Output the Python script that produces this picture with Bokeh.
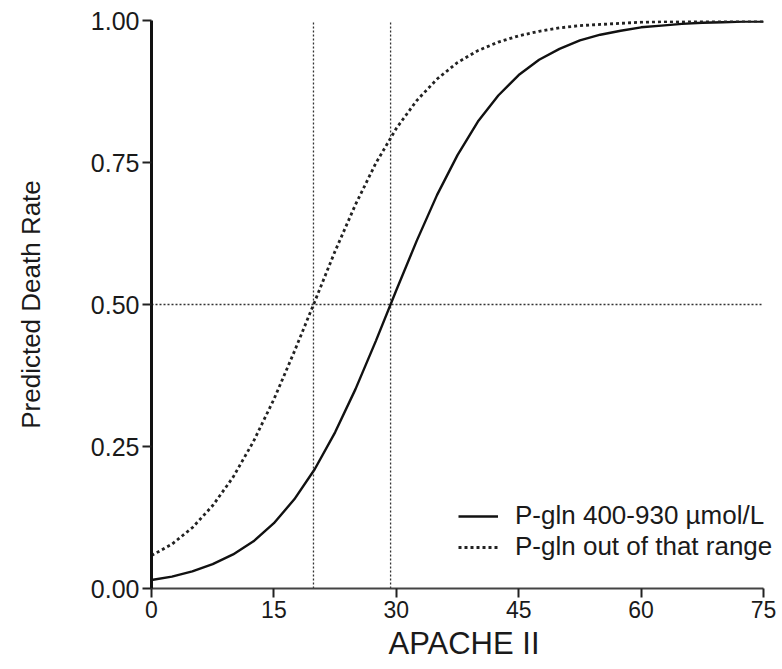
from bokeh.plotting import figure
from bokeh.models import Range1d, FixedTicker, Legend, LegendItem, NumeralTickFormatter
from bokeh.embed import file_html
from bokeh.resources import INLINE

# ---- data ----
apache = [0, 2.5, 5, 7.5, 10, 12.5, 15, 17.5, 20, 22.5, 25, 27.5, 30, 32.5, 35, 37.5,
          40, 42.5, 45, 47.5, 50, 52.5, 55, 57.5, 60, 62.5, 65, 67.5, 70, 72.5, 75]
rate_in_range = [0.015, 0.021, 0.030, 0.043, 0.060, 0.083, 0.115, 0.157, 0.210, 0.275,
                 0.351, 0.436, 0.525, 0.612, 0.693, 0.763, 0.822, 0.868, 0.904, 0.931,
                 0.950, 0.965, 0.975, 0.982, 0.988, 0.991, 0.994, 0.996, 0.997, 0.998, 0.998]
rate_out_range = [0.058, 0.078, 0.107, 0.146, 0.196, 0.259, 0.333, 0.417, 0.505, 0.594,
                  0.676, 0.749, 0.810, 0.859, 0.897, 0.926, 0.947, 0.962, 0.973, 0.981,
                  0.987, 0.991, 0.993, 0.995, 0.997, 0.998, 0.998, 0.999, 0.999, 0.999, 0.999]
x_ticks = [0, 15, 30, 45, 60, 75]
y_ticks = [0.0, 0.25, 0.5, 0.75, 1.0]
ref_x = [19.85, 29.3]     # APACHE II where each curve crosses 0.5
ref_y = 0.5
series_labels = ["P-gln 400-930 \u00b5mol/L", "P-gln out of that range"]
x_title = "APACHE II"
y_title = "Predicted Death Rate"

FONT = "Liberation Sans"
X_MIN, X_MAX = x_ticks[0], x_ticks[-1]
Y_MIN, Y_MAX = y_ticks[0], y_ticks[-1]

# frame geometry: axis drawn over 612 px, frame widened on the right so the legend text fits
AXIS_W = 612
FRAME_W = 625
x_end = X_MAX * FRAME_W / AXIS_W

p = figure(width=782, height=669, output_backend="svg", toolbar_location=None,
           x_range=Range1d(X_MIN, x_end), y_range=Range1d(Y_MIN, Y_MAX),
           min_border_left=151, min_border_right=782 - 151 - FRAME_W,
           min_border_top=20, min_border_bottom=81)
p.outline_line_color = None
p.grid.visible = False
p.background_fill_color = "white"
p.border_fill_color = "white"

# axes
p.xaxis.ticker = FixedTicker(ticks=x_ticks)
p.yaxis.ticker = FixedTicker(ticks=y_ticks)
p.xaxis.bounds = (X_MIN, X_MAX)
p.yaxis.formatter = NumeralTickFormatter(format="0.00")
for ax in (p.xaxis[0], p.yaxis[0]):
    ax.major_label_text_font = FONT
    ax.major_label_text_color = "#1a1a1a"
    ax.axis_label_text_font = FONT
    ax.axis_label_text_font_style = "normal"
    ax.axis_label_text_color = "#1a1a1a"
    ax.minor_tick_line_color = None
    ax.major_tick_in = 0
    ax.major_tick_out = 9
    ax.major_tick_line_width = 2
    ax.major_tick_line_color = "#222222"

p.xaxis.axis_label = x_title
p.yaxis.axis_label = y_title
p.xaxis.major_label_text_font_size = "23px"
p.yaxis.major_label_text_font_size = "25px"
p.xaxis.axis_label_text_font_size = "31px"
p.yaxis.axis_label_text_font_size = "26px"
p.xaxis.major_label_standoff = 3
p.yaxis.major_label_standoff = 3
p.xaxis.axis_label_standoff = 5
p.yaxis.axis_label_standoff = 42
p.yaxis.axis_line_width = 3
p.yaxis.axis_line_color = "#111111"
p.xaxis.axis_line_width = 2
p.xaxis.axis_line_color = "#444444"

# reference (dotted) lines
p.segment(x0=ref_x, y0=[Y_MIN] * len(ref_x), x1=ref_x, y1=[Y_MAX] * len(ref_x),
          line_color="#333333", line_width=1.3, line_dash="2 2")
p.segment(x0=[X_MIN], y0=[ref_y], x1=[X_MAX], y1=[ref_y],
          line_color="#333333", line_width=1.3, line_dash="2 2")

# curves
r1 = p.line(apache, rate_in_range, line_color="#111111", line_width=2.4)
r2 = p.line(apache, rate_out_range, line_color="#222222", line_width=2.8, line_dash="3 3")

legend = Legend(items=[LegendItem(label=series_labels[0], renderers=[r1]),
                       LegendItem(label=series_labels[1], renderers=[r2])],
                location=(307, 26), orientation="vertical",
                border_line_color=None, background_fill_alpha=0,
                padding=0, margin=0, spacing=0,
                glyph_width=40, glyph_height=28, label_height=28, label_standoff=17,
                label_text_font=FONT, label_text_font_size="26px", label_text_color="#1a1a1a")
p.add_layout(legend, "center")

open("out.html", "w").write(file_html(p, INLINE))
